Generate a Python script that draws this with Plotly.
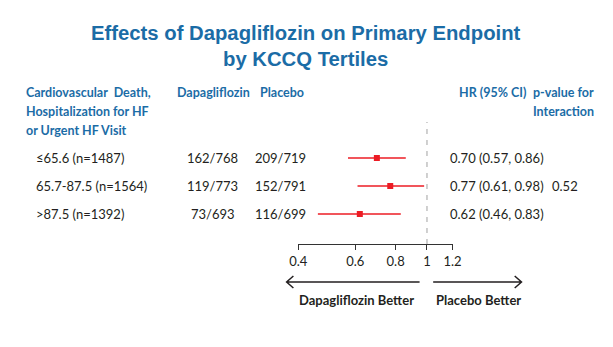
import numpy as np
import plotly.graph_objects as go

# ---- data ----
groups = ["≤65.6 (n=1487)", "65.7-87.5 (n=1564)", ">87.5 (n=1392)"]
dapa_events = ["162/768", "119/773", "73/693"]
placebo_events = ["209/719", "152/791", "116/699"]
hr = [0.70, 0.77, 0.62]
ci_low = [0.57, 0.61, 0.46]
ci_high = [0.86, 0.98, 0.83]
p_interaction = "0.52"
tick_vals = [0.4, 0.6, 0.8, 1, 1.2]
tick_text = ["0.4", "0.6", "0.8", "1", "1.2"]
rows = [3, 2, 1]

W, H = 613, 347
def px(x):
    return x / W
def py(y):
    return 1 - y / H

BLUE = "#1b6ca6"
TXT = "#231f20"
RED = "#ec1c24"
HFONT = "Lato"
BFONT = "Lato"

fig = go.Figure()
fig.add_trace(go.Scatter(
    x=hr, y=rows, mode="markers",
    marker=dict(symbol="square", size=6, color=RED),
    error_x=dict(type="data", symmetric=False,
                 array=[h - m for h, m in zip(ci_high, hr)],
                 arrayminus=[m - l for m, l in zip(hr, ci_low)],
                 color=RED, thickness=1.6, width=0),
    hoverinfo="skip", showlegend=False,
))

ann = []
ann.append(dict(text="<b>Effects of Dapagliflozin on Primary Endpoint<br>by KCCQ Tertiles</b>",
                x=px(306), y=py(46), xref="paper", yref="paper", showarrow=False,
                xanchor="center", yanchor="middle",
                font=dict(family="Liberation Sans, Arial", size=20.3, color=BLUE)))
hdr = dict(xref="paper", yref="paper", showarrow=False, yanchor="middle",
           font=dict(family=HFONT, size=12.5, color=BLUE, weight=700))
for t, x, y in [("Cardiovascular  Death,", 15, 92), ("Hospitalization for HF", 15, 111),
                ("or Urgent HF Visit", 15, 130), ("Dapagliflozin", 171, 92),
                ("Placebo", 257, 92), ("HR (95% CI)", 462, 92),
                ("p-value for", 538, 92), ("Interaction", 538, 111)]:
    ann.append(dict(hdr, text=t, x=px(x), xanchor="left", y=py(y)))

body = dict(xref="paper", yref="y", showarrow=False, yanchor="middle",
            font=dict(family=BFONT, size=13, color=TXT))
for i, r in enumerate(rows):
    ann.append(dict(body, text=groups[i], x=px(26), xanchor="left", y=r))
    ann.append(dict(body, text=dapa_events[i], x=px(210), xanchor="center", y=r))
    ann.append(dict(body, text=placebo_events[i], x=px(280), xanchor="center", y=r))
    ann.append(dict(body, text=f"{hr[i]:.2f} ({ci_low[i]:.2f}, {ci_high[i]:.2f})",
                    x=px(452), xanchor="left", y=r))
ann.append(dict(body, text=p_interaction, x=px(557), xanchor="left", y=rows[1]))

lab = dict(xref="paper", yref="paper", showarrow=False, yanchor="middle",
           font=dict(family=BFONT, size=13, color=TXT, weight=700))
ann.append(dict(lab, text="Dapagliflozin Better", x=px(358), xanchor="center", y=py(300)))
ann.append(dict(lab, text="Placebo Better", x=px(484), xanchor="center", y=py(300)))

shapes = [
    dict(type="line", xref="x", yref="y domain", x0=1, x1=1, y0=0, y1=1,
         line=dict(color="#c0c0c0", width=1.5, dash="5px,6px"), layer="below"),
    dict(type="path", xref="paper", yref="paper",
         path=f"M {px(423)},{py(282)} L {px(286)},{py(282)} M {px(293)},{py(276)} L {px(286)},{py(282)} L {px(293)},{py(288)}",
         line=dict(color=TXT, width=1.5)),
    dict(type="path", xref="paper", yref="paper",
         path=f"M {px(437)},{py(282)} L {px(528)},{py(282)} M {px(521)},{py(276)} L {px(528)},{py(282)} L {px(521)},{py(288)}",
         line=dict(color=TXT, width=1.5)),
]

fig.update_layout(
    width=W, height=H, margin=dict(l=0, r=0, t=0, b=0),
    paper_bgcolor="white", plot_bgcolor="white",
    annotations=ann, shapes=shapes,
    xaxis=dict(type="log", range=[np.log10(0.4), np.log10(1.2)],
               domain=[px(298), px(457)], showline=True, linecolor="#333", linewidth=1.2,
               ticks="outside", ticklen=5, tickwidth=1.2, tickcolor="#333",
               tickvals=tick_vals, ticktext=tick_text, showgrid=False, zeroline=False,
               tickfont=dict(family=BFONT, size=13, color=TXT), fixedrange=True),
    yaxis=dict(range=[-0.071, 4.286], domain=[py(244), py(122)], visible=False,
               fixedrange=True),
)
fig.write_html("out.html")
